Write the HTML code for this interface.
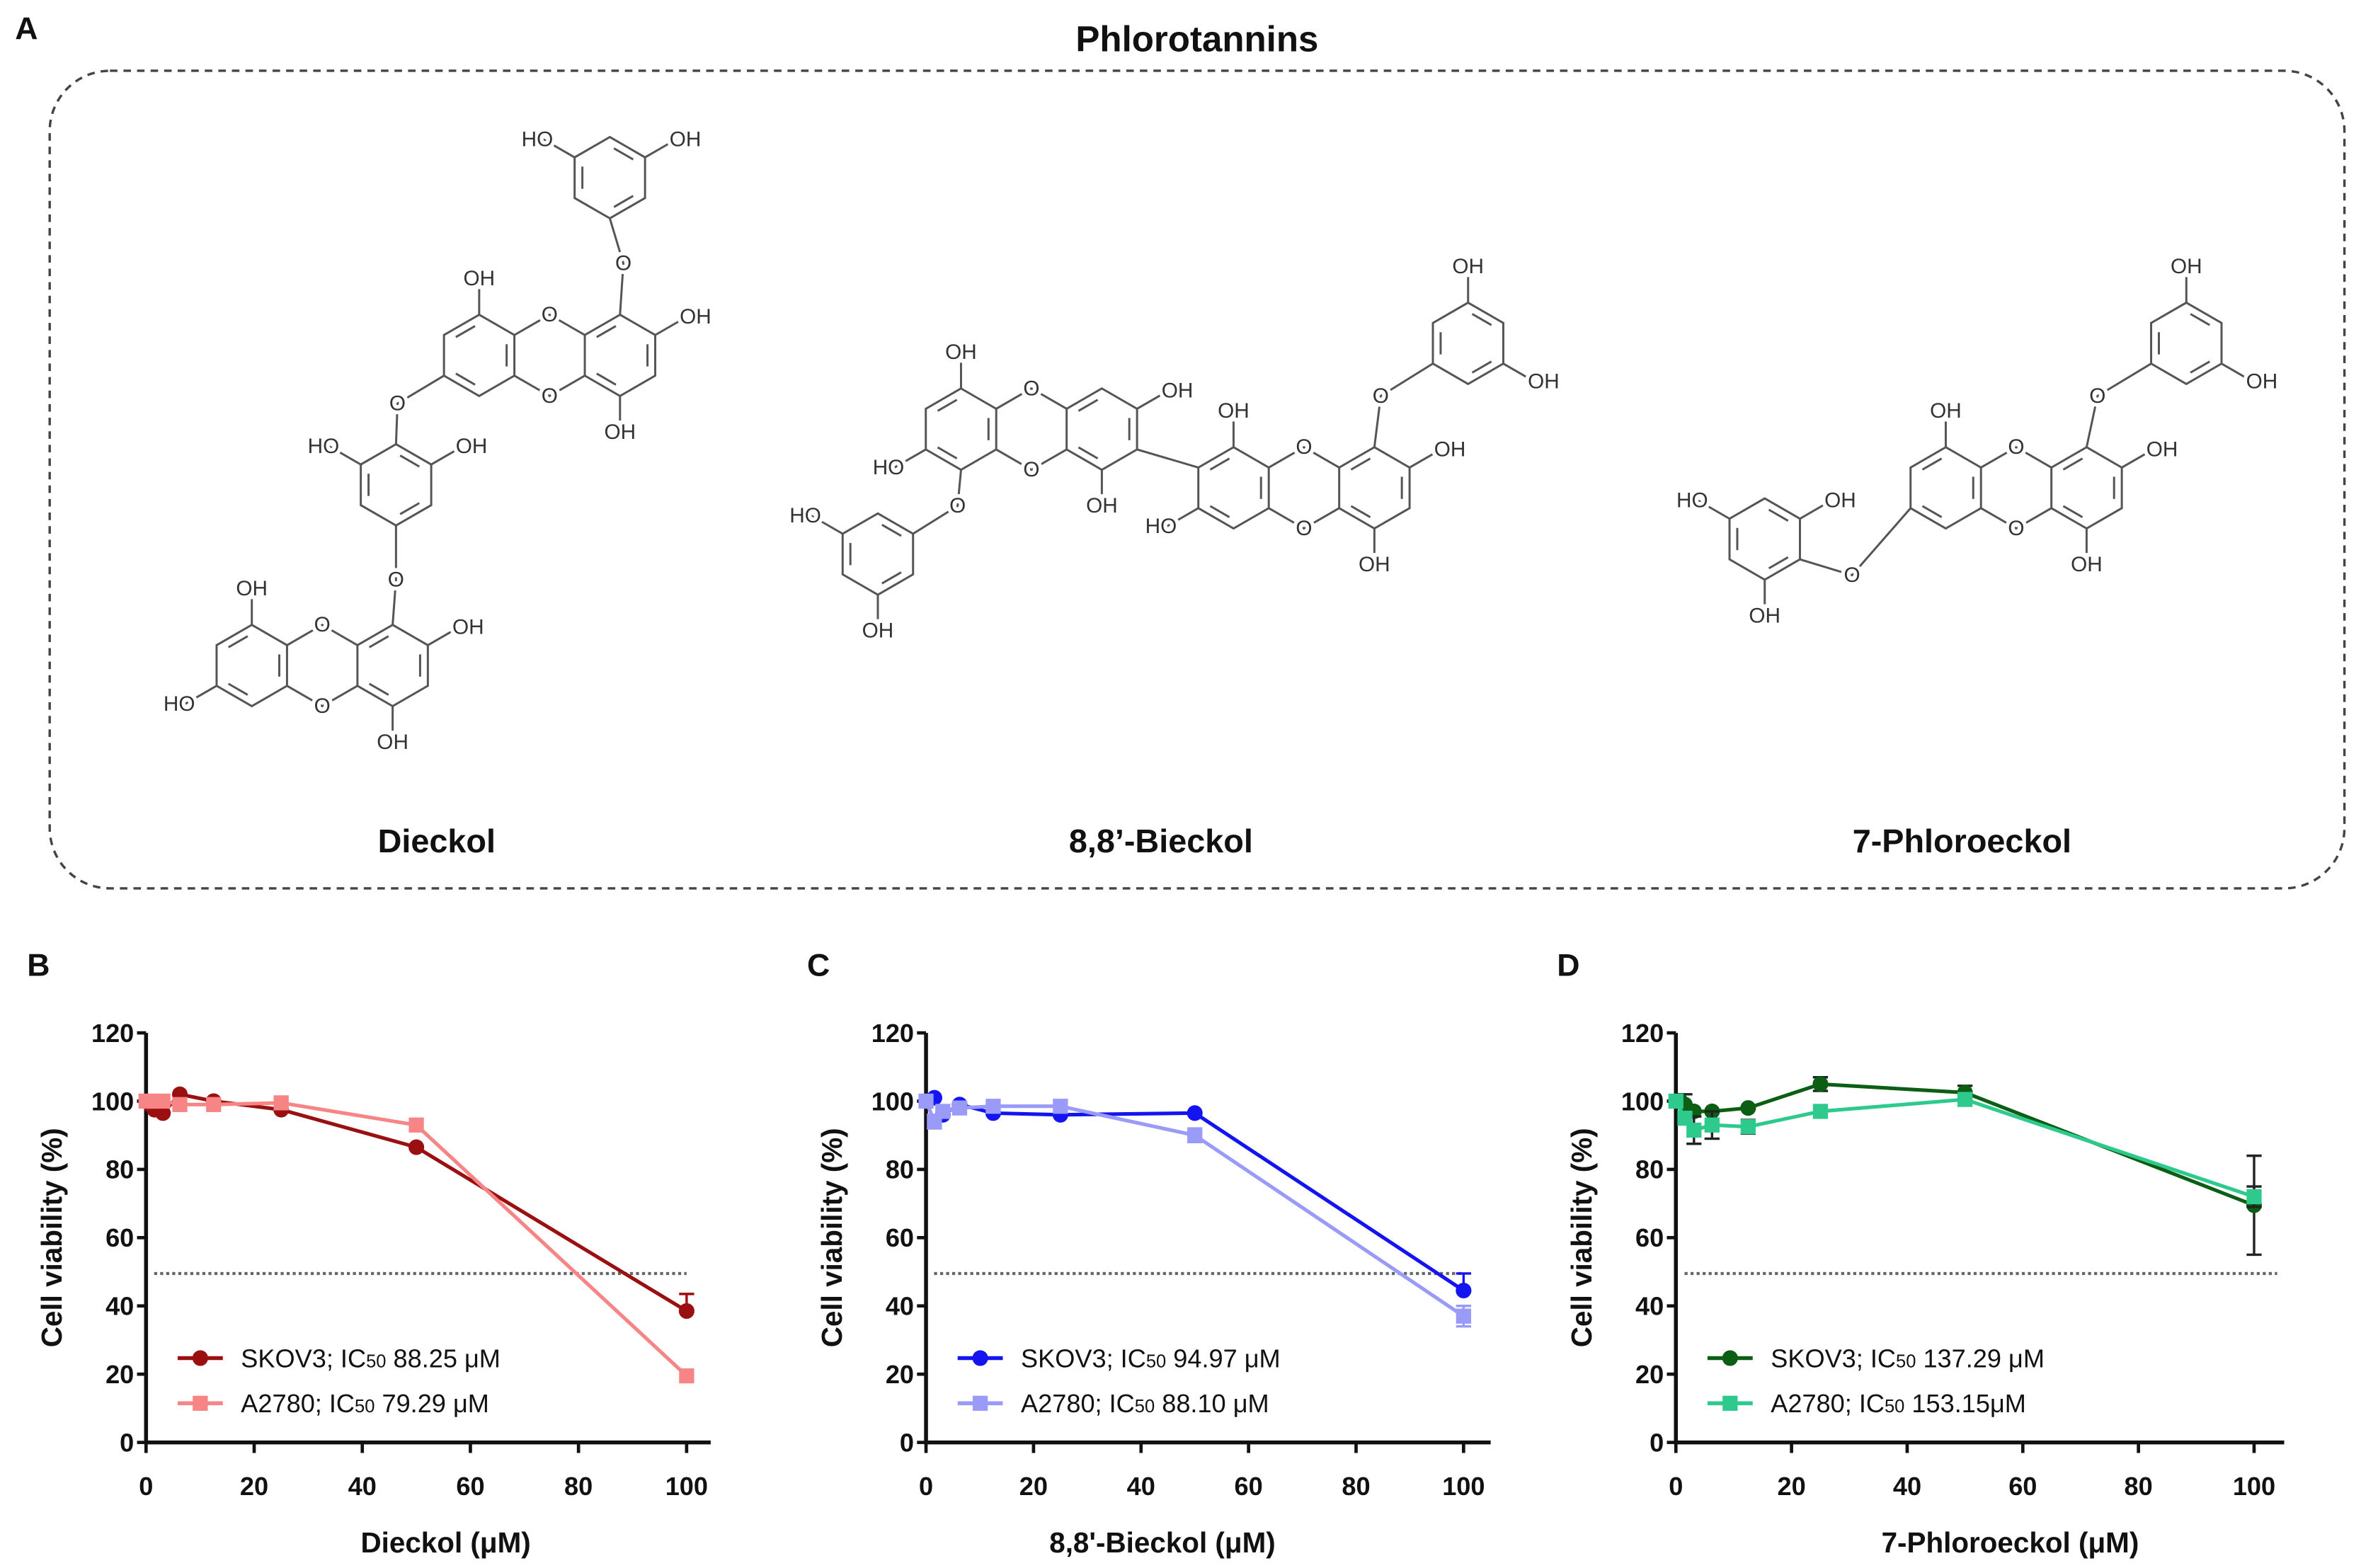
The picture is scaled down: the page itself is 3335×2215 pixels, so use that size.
<!DOCTYPE html>
<html><head><meta charset="utf-8"><style>
html,body{margin:0;padding:0;background:#fff}
svg{display:block}
text{font-family:"Liberation Sans",Arial,sans-serif}
.lbl{font-size:14px;fill:#333;stroke:#fff;stroke-width:5px;paint-order:stroke;text-anchor:middle;dominant-baseline:central}
.tick{font-size:17px;font-weight:bold;fill:#111}
.ttl{font-size:19px;font-weight:bold;fill:#111;text-anchor:middle}
.leg{font-size:17px;fill:#111}
.pl{font-size:21px;font-weight:bold;fill:#111}
</style></head><body>
<svg id="fig" width="3335" height="2215" viewBox="0 0 1568 1041.4" xmlns="http://www.w3.org/2000/svg">
<text class="pl" x="10" y="26">A</text>
<text x="795" y="34" font-size="24" font-weight="bold" text-anchor="middle" fill="#111">Phlorotannins</text>
<rect x="33" y="47" width="1524" height="543" rx="40" fill="none" stroke="#444" stroke-width="1.6" stroke-dasharray="5,4"/>
<g id="chem" stroke="#555" stroke-width="1.4" fill="none"></g>
<g id="chemtxt"></g>
<text x="290" y="566" font-size="22" font-weight="bold" text-anchor="middle" fill="#111">Dieckol</text>
<text x="771" y="566" font-size="22" font-weight="bold" text-anchor="middle" fill="#111">8,8’-Bieckol</text>
<text x="1303" y="566" font-size="22" font-weight="bold" text-anchor="middle" fill="#111">7-Phloroeckol</text>
<g id="charts"></g>
</svg>
<script>
// ---------- chart data ----------
const concB1 = [0, 0.78, 1.56, 3.125, 6.25, 12.5, 25, 50, 100];
const skov3B = [100, 99, 97.5, 96.5, 102, 100, 97.5, 86.5, 38.5];
const concB2 = [0, 1.56, 3.125, 6.25, 12.5, 25, 50, 100];
const a2780B = [100, 100, 100, 99, 99, 99.5, 93, 19.5];
const concC1 = [0, 1.56, 3.125, 6.25, 12.5, 25, 50, 100];
const skov3C = [100, 101, 96, 99, 96.5, 96, 96.5, 44.5];
const a2780C = [100, 94, 97, 98, 98.5, 98.5, 90, 37];
const concD1 = [0, 0.78, 1.56, 3.125, 6.25, 12.5, 25, 50, 100];
const skov3D = [100, 100, 99, 97, 97, 98, 105, 102.5, 69.5];
const concD2 = [0, 1.56, 3.125, 6.25, 12.5, 25, 50, 100];
const a2780D = [100, 95, 91.5, 93, 92.5, 97, 100.5, 72];
const errB = [0, 0, 0, 0, 0, 0, 0, 0, 5];
const errD1 = [0, 0, 3, 0, 0, 0, 2, 2, 14.5];
const errD2 = [0, 0, 4, 4, 2, 0, 0, 3, 12];
const yTicks = [0, 20, 40, 60, 80, 100, 120];
const xTicks = [0, 20, 40, 60, 80, 100];

const NS = "http://www.w3.org/2000/svg";
function mk(tag, attrs, parent) {
  const e = document.createElementNS(NS, tag);
  for (const k in attrs) e.setAttribute(k, attrs[k]);
  parent.appendChild(e);
  return e;
}
const charts = document.getElementById('charts');

function chart(p) {
  const g = mk('g', {}, charts);
  
  
  const X = v => p.x0 + (v / 100) * (p.x100 - p.x0);
  const Y = v => 958 - (v / 120) * (958 - 686);
  const t = mk('text', {x: p.x0 - 79, y: 648, class: 'pl'}, g); t.textContent = p.letter;
   
  const ax = mk('path', {d: `M${p.x0},${Y(120)}V958H${p.xend}`, stroke: '#111', 'stroke-width': 2.6, fill: 'none'}, g);
   
  yTicks.forEach(v => {
    mk('line', {x1: p.x0 - 6, x2: p.x0, y1: Y(v), y2: Y(v), stroke: '#111', 'stroke-width': 2.2}, g);
    const tx = mk('text', {x: p.x0 - 8, y: Y(v) + 6, class: 'tick', 'text-anchor': 'end'}, g); tx.textContent = v;
     
  });
  xTicks.forEach(v => {
    mk('line', {x1: X(v), x2: X(v), y1: 958, y2: 965, stroke: '#111', 'stroke-width': 2.2}, g);
    const tx = mk('text', {x: X(v), y: 993, class: 'tick', 'text-anchor': 'middle'}, g); tx.textContent = v;
     
  });
  const yt = mk('text', {x: 0, y: 0, class: 'ttl', transform: `translate(${p.x0 - 56},822) rotate(-90)`}, g);
  yt.textContent = 'Cell viability (%)';
   
  const xt = mk('text', {x: p.xtc, y: 1031, class: 'ttl'}, g); xt.textContent = p.xtitle;
   
  const dl = mk('line', {x1: X(1.5), x2: X(p.dashEnd), y1: Y(49.5), y2: Y(49.5), stroke: '#666', 'stroke-width': 2, 'stroke-dasharray': '2,2'}, g);
   
  p.series.forEach((s, si) => {
    const sg = mk('g', {}, g);
    
    
    if (s.err) s.x.forEach((c, i) => {
      if (!s.err[i]) return;
      const lo = s.upOnly ? s.y[i] : s.y[i] - s.err[i], hi = s.y[i] + s.err[i];
      mk('path', {d: `M${X(c)},${Y(lo)}V${Y(hi)}M${X(c) - 5},${Y(hi)}h10` + (s.upOnly ? '' : `M${X(c) - 5},${Y(lo)}h10`), stroke: s.errColor || s.color, 'stroke-width': 1.6, fill: 'none'}, sg);
    });
    const ln = mk('polyline', {points: s.x.map((c, i) => X(c) + ',' + Y(s.y[i])).join(' '), fill: 'none', stroke: s.color, 'stroke-width': 2.4}, sg);
     
    s.x.forEach((c, i) => {
      let m;
      if (s.shape === 'circle') m = mk('circle', {cx: X(c), cy: Y(s.y[i]), r: 5.2, fill: s.color}, sg);
      else m = mk('rect', {x: X(c) - 5, y: Y(s.y[i]) - 5, width: 10, height: 10, fill: s.color}, sg);
       
    });
    const ly = 902 + si * 30, lx = p.x0 + 21;
    const lg = mk('g', {}, g);
     
    mk('line', {x1: lx, x2: lx + 30, y1: ly, y2: ly, stroke: s.color, 'stroke-width': 2.6}, lg);
    if (s.shape === 'circle') mk('circle', {cx: lx + 15, cy: ly, r: 5.2, fill: s.color}, lg);
    else mk('rect', {x: lx + 10, y: ly - 5, width: 10, height: 10, fill: s.color}, lg);
    const tx = mk('text', {x: lx + 42, y: ly + 6, class: 'leg'}, lg);
    tx.innerHTML = s.name + '; IC<tspan font-size="12">50</tspan> ' + s.ic;
  });
}

chart({id: 'chart-dieckol', letter: 'B', x0: 97, x100: 456, xend: 472, xtc: 296, xtitle: 'Dieckol (μM)', dashEnd: 100,
  series: [
    {name: 'SKOV3', ic: '88.25 μM', x: concB1, y: skov3B, color: '#9a0f0f', shape: 'circle', err: errB, upOnly: true},
    {name: 'A2780', ic: '79.29 μM', x: concB2, y: a2780B, color: '#f78585', shape: 'square'}
  ]});
chart({id: 'chart-bieckol', letter: 'C', x0: 615, x100: 972, xend: 990, xtc: 772, xtitle: '8,8\'-Bieckol (μM)', dashEnd: 100,
  series: [
    {name: 'SKOV3', ic: '94.97 μM', x: concC1, y: skov3C, color: '#1414f0', shape: 'circle', err: [0,0,0,0,0,0,0,5], upOnly: true},
    {name: 'A2780', ic: '88.10 μM', x: concC1, y: a2780C, color: '#9a9af8', shape: 'square', err: [0,2,0,0,0,0,2,3]}
  ]});
chart({id: 'chart-phloroeckol', letter: 'D', x0: 1113, x100: 1497, xend: 1517, xtc: 1335, xtitle: '7-Phloroeckol (μM)', dashEnd: 104,
  series: [
    {name: 'SKOV3', ic: '137.29 μM', x: concD1, y: skov3D, color: '#0b5e14', shape: 'circle', err: errD1, errColor: '#222'},
    {name: 'A2780', ic: '153.15μM', x: concD2, y: a2780D, color: '#2ec98c', shape: 'square', err: errD2, errColor: '#222'}
  ]});

// ---------- chemical structures ----------
const chem = document.getElementById('chem'), ctxt = document.getElementById('chemtxt');
const R = 27;
function V(c, i) { const a = (90 - 60 * i) * Math.PI / 180; return [c[0] + R * Math.cos(a), c[1] - R * Math.sin(a)]; }
function hex(c, dbl) {
  const pts = [0,1,2,3,4,5].map(i => V(c, i));
  mk('polygon', {points: pts.map(p => p.join(',')).join(' ')}, chem);
  (dbl || [0, 2, 4]).forEach(i => {
    const a = pts[i], b = pts[(i + 1) % 6];
    const f = 0.78, s = 0.15;
    const a2 = [c[0] + (a[0] - c[0]) * f, c[1] + (a[1] - c[1]) * f], b2 = [c[0] + (b[0] - c[0]) * f, c[1] + (b[1] - c[1]) * f];
    mk('line', {x1: a2[0] + (b2[0] - a2[0]) * s, y1: a2[1] + (b2[1] - a2[1]) * s, x2: b2[0] - (b2[0] - a2[0]) * s, y2: b2[1] - (b2[1] - a2[1]) * s}, chem);
  });
}
function lbl(x, y, t) { const e = mk('text', {x: x, y: y, class: 'lbl'}, ctxt); e.textContent = t; }
function sub(c, i, t, len) {
  const v = V(c, i); const dx = v[0] - c[0], dy = v[1] - c[1]; const L = (len || 24) / R;
  const e = [v[0] + dx * L, v[1] + dy * L];
  mk('line', {x1: v[0], y1: v[1], x2: e[0], y2: e[1]}, chem);
  lbl(e[0] + (t === 'HO' ? -4 : (dx > 1 ? 6 : 0)), e[1], t);
}
function bridge(a, b, o) {
  mk('polyline', {points: `${a[0]},${a[1]} ${o[0]},${o[1]} ${b[0]},${b[1]}`}, chem);
  lbl(o[0], o[1], 'O');
}
const D = 2 * R * Math.cos(Math.PI / 6);
function dioxin(cx, cy) {
  const L = [cx - D, cy], M = [cx, cy], Rr = [cx + D, cy];
  hex(L, [1, 3, 5]); hex(Rr, [1, 3, 5]);
  mk('polyline', {points: [V(M, 5), V(M, 0), V(M, 1)].map(p => p.join(',')).join(' ')}, chem);
  mk('polyline', {points: [V(M, 4), V(M, 3), V(M, 2)].map(p => p.join(',')).join(' ')}, chem);
  lbl(V(M, 0)[0], V(M, 0)[1], 'O'); lbl(V(M, 3)[0], V(M, 3)[1], 'O');
  return [L, M, Rr];
}
// Dieckol
(function () {
  const top = [405, 118]; hex(top); sub(top, 5, 'HO'); sub(top, 1, 'OH');
  const [l1, m1, r1] = dioxin(365, 236);
  sub(l1, 0, 'OH'); sub(r1, 1, 'OH'); sub(r1, 3, 'OH');
  bridge(V(top, 3), V(r1, 0), [414, 175]);
  const mid = [263, 322]; hex(mid); sub(mid, 5, 'HO'); sub(mid, 1, 'OH');
  bridge(V(l1, 4), V(mid, 0), [264, 268]);
  const [l2, m2, r2] = dioxin(214, 442);
  bridge(V(mid, 3), V(r2, 0), [263, 385]);
  sub(l2, 0, 'OH'); sub(l2, 4, 'HO'); sub(r2, 1, 'OH'); sub(r2, 3, 'OH');
})();
// 8,8'-Bieckol
(function () {
  const [l1, m1, r1] = dioxin(685, 285);
  sub(l1, 0, 'OH'); sub(l1, 4, 'HO'); sub(r1, 1, 'OH'); sub(r1, 3, 'OH');
  const ph1 = [583, 368]; hex(ph1); sub(ph1, 5, 'HO'); sub(ph1, 3, 'OH');
  bridge(V(l1, 3), V(ph1, 1), [636, 336]);
  const [l2, m2, r2] = dioxin(866, 324);
  mk('line', {x1: V(r1, 2)[0], y1: V(r1, 2)[1], x2: V(l2, 5)[0], y2: V(l2, 5)[1]}, chem);
  sub(l2, 0, 'OH'); sub(l2, 4, 'HO'); sub(r2, 1, 'OH'); sub(r2, 3, 'OH');
  const ph2 = [975, 228]; hex(ph2); sub(ph2, 0, 'OH'); sub(ph2, 2, 'OH');
  bridge(V(r2, 0), V(ph2, 4), [917, 263]);
})();
// 7-Phloroeckol
(function () {
  const [l1, m1, r1] = dioxin(1339, 324);
  sub(l1, 0, 'OH'); sub(r1, 1, 'OH'); sub(r1, 3, 'OH');
  const ph1 = [1172, 358]; hex(ph1); sub(ph1, 5, 'HO'); sub(ph1, 1, 'OH'); sub(ph1, 3, 'OH');
  bridge(V(ph1, 2), V(l1, 4), [1230, 382]);
  const ph2 = [1452, 228]; hex(ph2); sub(ph2, 0, 'OH'); sub(ph2, 2, 'OH');
  bridge(V(r1, 0), V(ph2, 4), [1393, 263]);
})();
</script>
</body></html>
